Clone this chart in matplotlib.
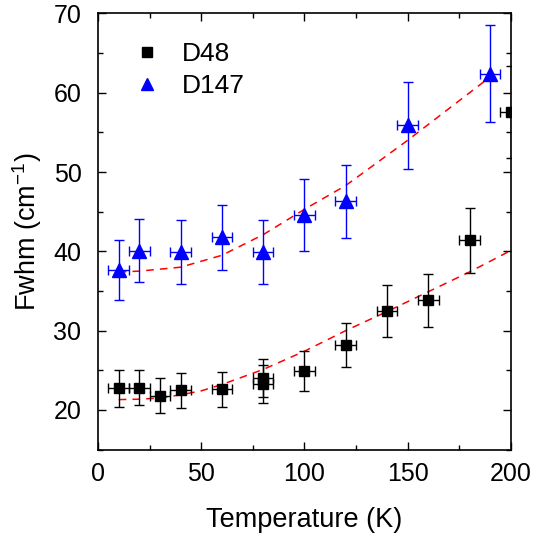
import numpy as np
import matplotlib
matplotlib.use('Agg')
import matplotlib.pyplot as plt
from matplotlib.ticker import MultipleLocator

plt.rcParams['font.family'] = ['Liberation Sans', 'DejaVu Sans']
plt.rcParams['mathtext.fontset'] = 'custom'
plt.rcParams['mathtext.rm'] = 'Liberation Sans'

# D48 (black squares)
t48 = [10, 20, 30, 40, 60, 80, 80, 100, 120, 140, 160, 180, 200]
f48 = [22.7, 22.8, 21.8, 22.5, 22.6, 23.3, 24.0, 24.9, 28.2, 32.5, 33.8, 41.4, 57.6]
f48_err = [2.3, 2.2, 2.2, 2.2, 2.2, 2.4, 2.4, 2.5, 2.8, 3.25, 3.35, 4.1, 5.8]

# D147 (blue triangles)
t147 = [10, 20, 40, 60, 80, 100, 120, 150, 190]
f147 = [37.6, 40.1, 39.9, 41.8, 39.9, 44.6, 46.3, 55.9, 62.4]
f147_err = [3.8, 4.0, 4.0, 4.1, 4.0, 4.5, 4.6, 5.5, 6.1]

t_err = 5

# fit curves
fit48_t = [10, 20, 30, 40, 50, 60, 80, 100, 120, 140, 160, 180, 200]
fit48_f = [21.3, 21.35, 21.5, 21.9, 22.4, 23.2, 25.1, 27.4, 30.0, 32.4, 34.9, 37.4, 40.1]
fit147_t = [10, 20, 40, 60, 80, 100, 120, 150, 190]
fit147_f = [37.4, 37.5, 38.0, 39.5, 42.1, 45.3, 48.3, 54.0, 62.0]

fig = plt.figure(figsize=(5.36, 5.39), dpi=100)
ax = fig.add_axes([0.183, 0.166, 0.770, 0.809])

ax.plot(fit48_t, fit48_f, color='red', ls=(0, (5, 4)), lw=1.1, zorder=2)
ax.plot(fit147_t, fit147_f, color='red', ls=(0, (5, 4)), lw=1.1, zorder=2)

ax.errorbar(t48, f48, yerr=f48_err, xerr=t_err, fmt='none', ecolor='black',
            elinewidth=1.0, capsize=3.5, capthick=1.0, zorder=3)
ax.errorbar(t147, f147, yerr=f147_err, xerr=t_err, fmt='none', ecolor='blue',
            elinewidth=1.0, capsize=3.5, capthick=1.0, zorder=3)
ax.plot(t48, f48, 's', color='black', ms=7.2, label='D48', zorder=4)
ax.plot(t147, f147, '^', color='blue', ms=9.5, label='D147', zorder=4)

ax.set_xlim(0, 200)
ax.set_ylim(15, 70)
ax.xaxis.set_major_locator(MultipleLocator(50))
ax.xaxis.set_minor_locator(MultipleLocator(25))
ax.yaxis.set_major_locator(MultipleLocator(10))
ax.yaxis.set_minor_locator(MultipleLocator(5))
ax.tick_params(which='both', direction='in', top=True, right=True, width=1.0,
               labelsize=18)
ax.tick_params(axis='x', pad=9)
ax.tick_params(axis='y', pad=12)
ax.tick_params(which='major', length=6)
ax.tick_params(which='minor', length=3.5)
for s in ax.spines.values():
    s.set_linewidth(1.2)

ax.set_xlabel('Temperature (K)', fontsize=19.5, labelpad=15)
ax.set_ylabel('Fwhm (cm$^{-1}$)', fontsize=19.5, labelpad=7)

ax.legend(loc='upper left', bbox_to_anchor=(0.03, 0.988), frameon=False,
          fontsize=19, numpoints=1, handlelength=1.0, handletextpad=0.8,
          labelspacing=0.3, markerscale=0.95)

fig.savefig('out.png', dpi=100)
